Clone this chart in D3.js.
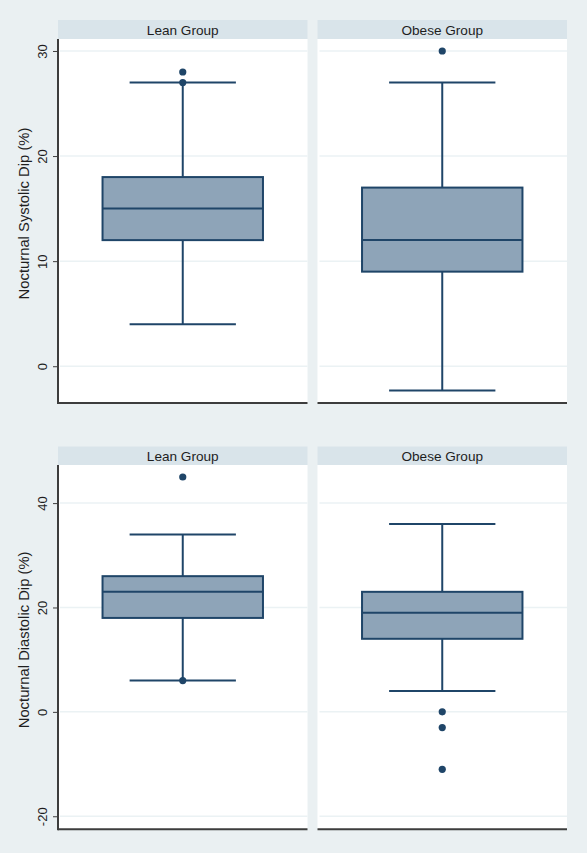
<!DOCTYPE html>
<html><head><meta charset="utf-8">
<script src="https://cdn.jsdelivr.net/npm/d3@7"></script>
<style>
html,body{margin:0;padding:0;background:#eaf0f2;}
svg{display:block;}
text{font-family:"Liberation Sans",Arial,Helvetica,sans-serif;fill:#1e1e1e;}
</style></head>
<body>
<svg id="chart" width="587" height="853"></svg>
<script>
// ---- data ----
const groups = ["Lean Group", "Obese Group"];

const sysLow  = [4, -2.3];
const sysQ1   = [12, 9];
const sysMed  = [15, 12];
const sysQ3   = [18, 17];
const sysHigh = [27, 27];
const sysOutliers = [[28, 27], [30]];
const sysTicks = [0, 10, 20, 30];
const sysTitle = "Nocturnal Systolic Dip (%)";

const diaLow  = [6, 4];
const diaQ1   = [18, 14];
const diaMed  = [23, 19];
const diaQ3   = [26, 23];
const diaHigh = [34, 36];
const diaOutliers = [[45, 6], [0, -3, -11]];
const diaTicks = [-20, 0, 20, 40];
const diaTitle = "Nocturnal Diastolic Dip (%)";

// ---- styling ----
const C = {
  bg: "#eaf0f2", strip: "#d9e4ea", plot: "#ffffff", grid: "#ebf2f4",
  axis: "#3d3d3d", line: "#1f4568", fill: "#8ea4b8"
};

const svg = d3.select("#chart");

function panelChart(opt) {
  const g = svg.append("g");
  const x = d3.scaleBand().domain(groups).range([58, 567]).paddingInner(0.0385);
  const y = d3.scaleLinear().domain(opt.domain).range([opt.bottom, opt.top]);
  const bw = x.bandwidth();

  // strips + plot backgrounds
  groups.forEach((grp, i) => {
    const x0 = x(grp);
    g.append("rect").attr("x", x0).attr("y", opt.stripTop).attr("width", bw)
      .attr("height", opt.top - opt.stripTop).attr("fill", C.strip);
    g.append("text").attr("x", x0 + bw / 2).attr("y", (opt.stripTop + opt.top) / 2 + 5)
      .attr("text-anchor", "middle").attr("font-size", 13.6).text(grp);
    g.append("rect").attr("x", x0).attr("y", opt.top).attr("width", bw)
      .attr("height", opt.bottom - opt.top).attr("fill", C.plot);
    // gridlines
    g.selectAll(null).data(opt.ticks).enter().append("line")
      .attr("x1", x0 + 2).attr("x2", x0 + bw)
      .attr("y1", d => y(d)).attr("y2", d => y(d))
      .attr("stroke", C.grid).attr("stroke-width", 1.5);
  });

  // boxes
  groups.forEach((grp, i) => {
    const cx = x(grp) + bw / 2;
    const boxW = bw * 0.643, capW = bw * 0.426;
    const sw = 2;
    // whiskers
    g.append("line").attr("x1", cx).attr("x2", cx).attr("y1", y(opt.q3[i])).attr("y2", y(opt.high[i]))
      .attr("stroke", C.line).attr("stroke-width", sw);
    g.append("line").attr("x1", cx).attr("x2", cx).attr("y1", y(opt.q1[i])).attr("y2", y(opt.low[i]))
      .attr("stroke", C.line).attr("stroke-width", sw);
    g.append("line").attr("x1", cx - capW / 2).attr("x2", cx + capW / 2).attr("y1", y(opt.high[i])).attr("y2", y(opt.high[i]))
      .attr("stroke", C.line).attr("stroke-width", sw);
    g.append("line").attr("x1", cx - capW / 2).attr("x2", cx + capW / 2).attr("y1", y(opt.low[i])).attr("y2", y(opt.low[i]))
      .attr("stroke", C.line).attr("stroke-width", sw);
    // box
    g.append("rect").attr("x", cx - boxW / 2).attr("y", y(opt.q3[i]))
      .attr("width", boxW).attr("height", y(opt.q1[i]) - y(opt.q3[i]))
      .attr("fill", C.fill).attr("stroke", C.line).attr("stroke-width", sw);
    g.append("line").attr("x1", cx - boxW / 2).attr("x2", cx + boxW / 2).attr("y1", y(opt.med[i])).attr("y2", y(opt.med[i]))
      .attr("stroke", C.line).attr("stroke-width", sw);
    // outliers
    g.selectAll(null).data(opt.outliers[i]).enter().append("circle")
      .attr("cx", cx).attr("cy", d => y(d)).attr("r", 3.6).attr("fill", C.line);
    // bottom axis line
    g.append("line").attr("x1", x(grp)).attr("x2", x(grp) + bw)
      .attr("y1", opt.bottom).attr("y2", opt.bottom)
      .attr("stroke", C.axis).attr("stroke-width", 2);
  });

  // y axis
  const ax = g.append("g").attr("transform", "translate(58,0)")
    .call(d3.axisLeft(y).tickValues(opt.ticks).tickSize(5).tickPadding(0));
  ax.select(".domain").remove();
  ax.selectAll(".tick line").attr("stroke", C.axis).attr("stroke-width", 1);
  ax.selectAll(".tick text").remove();
  ax.selectAll(".tick").append("text")
    .attr("transform", "translate(-11.5,0) rotate(-90)")
    .attr("text-anchor", "middle").attr("font-size", 13).attr("fill", "#1e1e1e")
    .attr("font-family", '"Liberation Sans",Arial,sans-serif')
    .text(d => String(d));
  g.append("line").attr("x1", 58).attr("x2", 58).attr("y1", opt.top).attr("y2", opt.bottom + 1)
    .attr("stroke", C.axis).attr("stroke-width", 2);

  // y title
  g.append("text")
    .attr("transform", `translate(28.5,${(opt.stripTop + opt.bottom) / 2 + 2}) rotate(-90)`)
    .attr("text-anchor", "middle").attr("font-size", 14.8).text(opt.title);
}

panelChart({
  domain: [-3.5, 31.14], top: 39, bottom: 403, stripTop: 20,
  ticks: sysTicks, title: sysTitle,
  low: sysLow, q1: sysQ1, med: sysMed, q3: sysQ3, high: sysHigh, outliers: sysOutliers
});

panelChart({
  domain: [-22.5, 47.3], top: 465, bottom: 829.3, stripTop: 446.5,
  ticks: diaTicks, title: diaTitle,
  low: diaLow, q1: diaQ1, med: diaMed, q3: diaQ3, high: diaHigh, outliers: diaOutliers
});
</script>
</body></html>
